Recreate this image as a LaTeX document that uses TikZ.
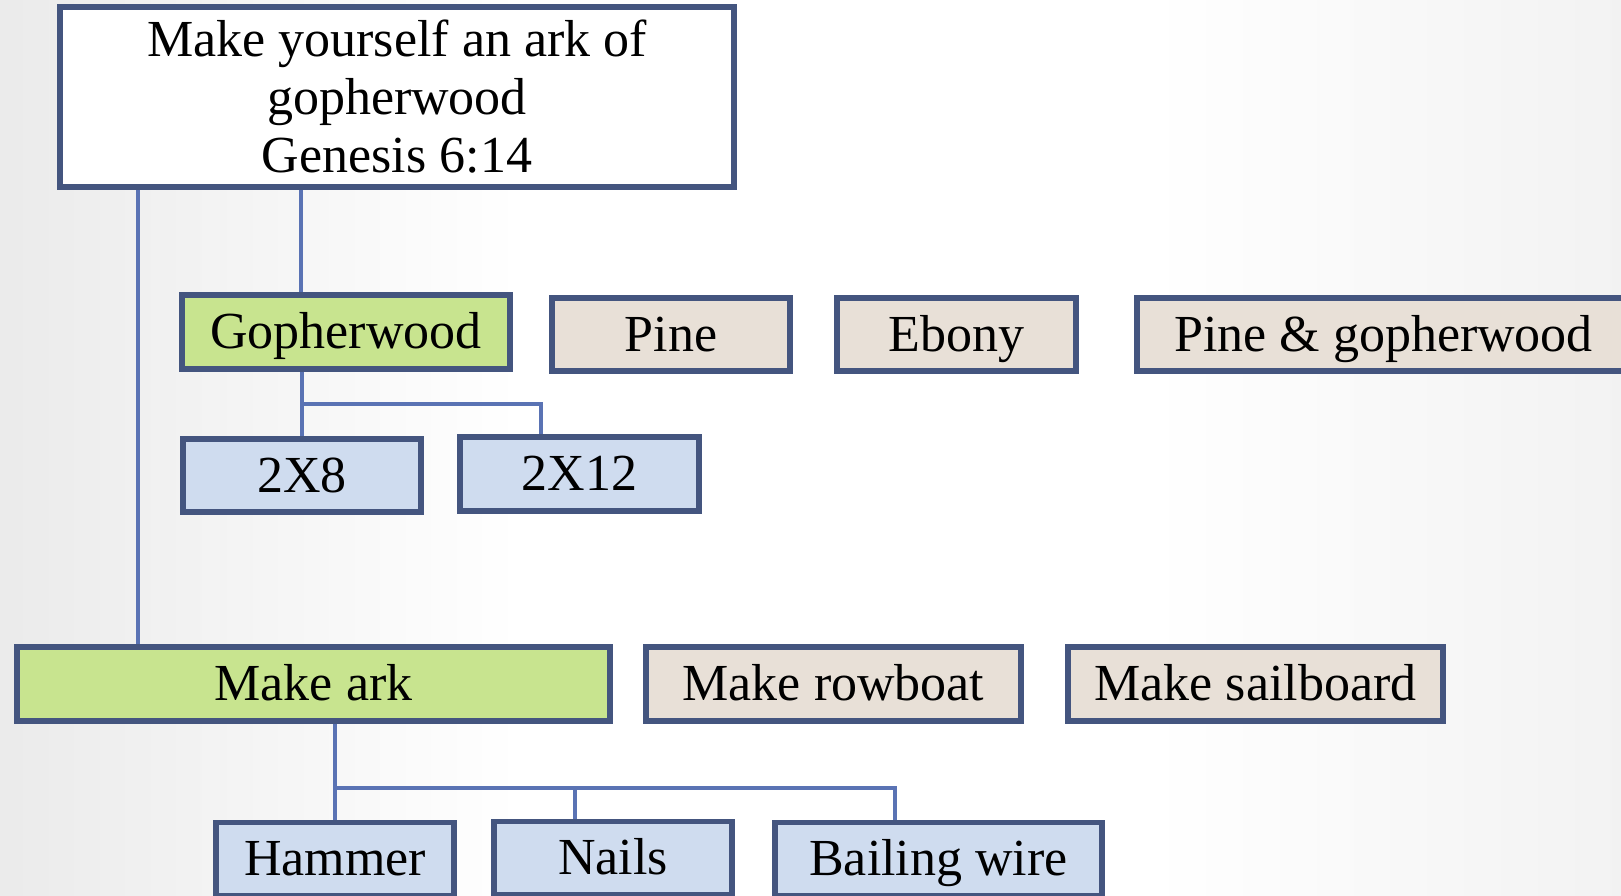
\documentclass[tikz,border=0pt]{standalone}
\usepackage{fontspec}
\setmainfont{Liberation Serif}
\usepackage{tikz}
\usetikzlibrary{calc}
\definecolor{boxline}{HTML}{44557F}
\definecolor{linkblue}{HTML}{5A73B4}
\definecolor{greenfill}{HTML}{C8E48F}
\definecolor{beigefill}{HTML}{E8E0D7}
\definecolor{bluefill}{HTML}{CFDCEF}
\tikzset{
    box/.style={draw=boxline, line width=5.5pt, inner sep=0pt, font=\fontsize{52}{58}\selectfont},
    single/.style={text height=38pt, text depth=5pt},
    chosen/.style={box, single, fill=greenfill},
    other/.style={box, single, fill=beigefill},
    part/.style={box, single, fill=bluefill},
    link/.style={draw=linkblue, line width=4pt}}

\begin{document}
\begin{tikzpicture}[x=1pt, y=-1pt]

    \useasboundingbox (0,0) rectangle (1621,895);
    \fill[white] (0,0) rectangle (1621,895);
    \shade[left color=black!8, right color=white] (0,0) rectangle (520,895);
    \shade[left color=white, right color=black!5] (1150,0) rectangle (1621,895);

    \node[box, fill=white, align=center, minimum width=674pt, minimum height=180pt] (verse) at (397,97) {Make yourself an ark of\\gopherwood\\Genesis 6:14};

    \node[chosen, minimum width=328pt, minimum height=74pt] (gopher) at (346,332) {Gopherwood};
    \node[other, minimum width=238pt, minimum height=73pt] (pine) at (671,334.5) {Pine};
    \node[other, minimum width=239pt, minimum height=73pt] (ebony) at (956.5,334.5) {Ebony};
    \node[other, minimum width=493pt, minimum height=73pt] (mixed) at (1383.5,334.5) {Pine \& gopherwood};

    \node[part, minimum width=238pt, minimum height=73pt] (twoeight) at (302,475.5) {2X8};
    \node[part, minimum width=239pt, minimum height=74pt] (twotwelve) at (579.5,474) {2X12};

    \node[chosen, minimum width=593pt, minimum height=74pt] (ark) at (313.5,684) {Make ark};
    \node[other, minimum width=375pt, minimum height=74pt] (rowboat) at (833.5,684) {Make rowboat};
    \node[other, minimum width=375pt, minimum height=74pt] (sailboard) at (1255.5,684) {Make sailboard};

    \node[part, minimum width=238pt, minimum height=73pt] (hammer) at (335,859) {Hammer};
    \node[part, minimum width=238pt, minimum height=73pt] (nails) at (613,858) {Nails};
    \node[part, minimum width=327pt, minimum height=73pt] (wire) at (938.5,859) {Bailing wire};

    \coordinate (gbar) at ($(gopher.south)!0.5!(twoeight.north)$);
    \coordinate (abar) at ($(ark.south)!0.67!(hammer.north)$);

    \draw[link] ([xshift=81pt]verse.south west) -- ([xshift=81pt]verse.south west |- ark.north);
    \draw[link] ([xshift=-45pt]gopher.north |- verse.south) -- ([xshift=-45pt]gopher.north);

    \draw[link] (gopher.south -| twoeight.north) -- (twoeight.north);
    \draw[link] (gbar -| twoeight.north) -| ([xshift=-38.5pt]twotwelve.north);

    \draw[link] (ark.south -| hammer.north) -- (hammer.north);
    \draw[link] (abar -| hammer.north) -| ([xshift=-43.5pt]wire.north);
    \draw[link] ([xshift=-38pt]nails.north |- abar) -- ([xshift=-38pt]nails.north);

\end{tikzpicture}
\end{document}
